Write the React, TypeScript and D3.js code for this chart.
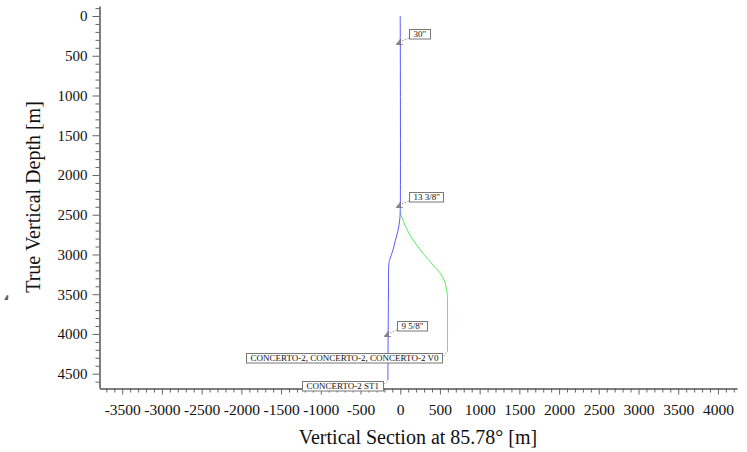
import { useEffect, useRef } from 'react'
import * as d3 from 'd3'

// Trajectories: vertical section [m] vs true vertical depth [m]
const ST1_VS = [0, 0, -5, -28, -60, -90, -130, -143, -148, -152, -155]
const ST1_TVD = [0, 2450, 2550, 2700, 2820, 2940, 3060, 3120, 3500, 4000, 4580]
const V0_VS = [0, 20, 78, 161, 287, 413, 518, 572, 592, 595, 595]
const V0_TVD = [2470, 2530, 2670, 2818, 2985, 3132, 3258, 3384, 3500, 3600, 4225]

const CASING_NAMES = ['30"', '13 3/8"', '9 5/8"']
const CASING_VS = [0, 0, -148]
const CASING_TVD = [330, 2380, 4000]

const WELL_LABELS = ['CONCERTO-2, CONCERTO-2, CONCERTO-2 V0', 'CONCERTO-2 ST1']

const X_TICKS = [-3500, -3000, -2500, -2000, -1500, -1000, -500, 0, 500, 1000, 1500, 2000, 2500, 3000, 3500, 4000]
const Y_TICKS = [0, 500, 1000, 1500, 2000, 2500, 3000, 3500, 4000, 4500]

const W = 747
const H = 452
const SERIF = '"Liberation Serif", "DejaVu Serif", serif'

export default function App() {
  const svgRef = useRef<SVGSVGElement>(null)

  useEffect(() => {
    if (!svgRef.current) return
    document.body.style.margin = '0'
    const svg = d3.select(svgRef.current)
    svg.selectAll('*').remove()

    const x = d3.scaleLinear().domain([-3786, 4240]).range([99.5, 737])
    const y = d3.scaleLinear().domain([-126, 4680]).range([6, 388])

    // ── Axes ────────────────────────────────────────────────────────────────
    const minorX = d3.range(-3700, 4201, 100).filter((v) => v % 500 !== 0)
    const minorY = d3.range(-100, 4601, 100).filter((v) => v % 500 !== 0)

    const styleAxis = (size: number) => (a: any) => {
      a.attr('font-family', SERIF)
      a.select('.domain').attr('stroke', '#555')
      a.selectAll('line').attr('stroke', '#666')
      a.selectAll('text').attr('font-family', SERIF).attr('font-size', size).attr('fill', '#111')
    }

    svg.append('g').attr('transform', 'translate(0,388.5)')
      .call(d3.axisBottom(x).tickValues(minorX).tickSize(4).tickSizeOuter(0).tickFormat(() => ''))
      .call(styleAxis(15))
    svg.append('g').attr('transform', 'translate(0,388.5)')
      .call(d3.axisBottom(x).tickValues(X_TICKS).tickSize(6).tickPadding(9).tickSizeOuter(0).tickFormat((d) => String(d)))
      .call(styleAxis(15.5))

    svg.append('g').attr('transform', 'translate(99.5,0)')
      .call(d3.axisLeft(y).tickValues(minorY).tickSize(4).tickSizeOuter(0).tickFormat(() => ''))
      .call(styleAxis(15))
    svg.append('g').attr('transform', 'translate(99.5,0)')
      .call(d3.axisLeft(y).tickValues(Y_TICKS).tickSize(7).tickPadding(5).tickSizeOuter(0).tickFormat((d) => String(d)))
      .call(styleAxis(15))

    // axis titles
    svg.append('text')
      .attr('transform', 'translate(40,197) rotate(-90)')
      .attr('text-anchor', 'middle')
      .attr('font-family', SERIF).attr('font-size', 20).attr('fill', '#111')
      .text('True Vertical Depth [m]')
    svg.append('text')
      .attr('x', 418).attr('y', 444)
      .attr('text-anchor', 'middle')
      .attr('font-family', SERIF).attr('font-size', 20).attr('fill', '#111')
      .text('Vertical Section at 85.78° [m]')

    // little stray glyph at the left edge
    svg.append('path').attr('d', 'M4,300 L7,295 L8.5,295.5 L8,300 Z').attr('fill', '#666')

    // ── Wells ───────────────────────────────────────────────────────────────
    const line = d3.line<[number, number]>()
      .x((d) => x(d[0])).y((d) => y(d[1]))
      .curve(d3.curveCatmullRom)

    const v0 = V0_VS.map((v, i) => [v, V0_TVD[i]] as [number, number])
    const st1 = ST1_VS.map((v, i) => [v, ST1_TVD[i]] as [number, number])

    svg.append('path').attr('d', line(v0)).attr('fill', 'none')
      .attr('stroke', '#55ee55').attr('stroke-width', 1)
    svg.append('path').attr('d', line(st1)).attr('fill', 'none')
      .attr('stroke', '#5a5aff').attr('stroke-width', 1)

    // ── Casing shoes ──────────────────────────────────────────────────────────
    const boxLabel = (text: string, bx: number, by: number, anchorRight: boolean) => {
      const g = svg.append('g')
      const rect = g.append('rect').attr('fill', 'white').attr('stroke', '#777').attr('stroke-width', 1)
      const t = g.append('text')
        .attr('font-family', SERIF).attr('font-size', 9).attr('fill', '#111')
        .attr('dominant-baseline', 'central')
        .text(text)
      const tw = (t.node() as SVGTextElement).getComputedTextLength()
      const bw = Math.round(tw + 8)
      const left = anchorRight ? bx - bw : bx
      rect.attr('x', left + 0.5).attr('y', by + 0.5).attr('width', bw).attr('height', 9.5)
      t.attr('x', left + 4.5).attr('y', by + 5.3)
      return { left, right: left + bw }
    }

    CASING_NAMES.forEach((name, i) => {
      const cx = Math.round(x(CASING_VS[i]))
      const cy = Math.round(y(CASING_TVD[i]))
      // shoe symbol: small half-arrow with a base tick
      svg.append('path')
        .attr('d', `M${cx - 3.5},${cy + 2} L${cx + 0.5},${cy + 2} L${cx + 0.5},${cy - 3} Z`)
        .attr('fill', '#8a8a8a').attr('stroke', '#666').attr('stroke-width', 0.5)
      svg.append('line')
        .attr('x1', cx - 4).attr('y1', cy + 2.5).attr('x2', cx + 3).attr('y2', cy + 2.5)
        .attr('stroke', '#666').attr('stroke-width', 0.7)
      svg.append('line')
        .attr('x1', cx + 2).attr('y1', cy - 1).attr('x2', cx + 9).attr('y2', cy - 4)
        .attr('stroke', '#777').attr('stroke-width', 0.8).attr('stroke-dasharray', '1.5,1.5')
      boxLabel(name, cx + 9, cy - 13, false)
    })

    // ── Well end labels ──────────────────────────────────────────────────────
    const ends = [v0[v0.length - 1], st1[st1.length - 1]]
    ends.forEach((p, i) => {
      const ex = Math.round(x(p[0]))
      const ey = Math.round(y(p[1]))
      const b = boxLabel(WELL_LABELS[i], ex - 5, ey + 1, true)
      svg.append('line')
        .attr('x1', b.right + 1.5).attr('y1', ey + 4).attr('x2', ex).attr('y2', ey)
        .attr('stroke', '#777').attr('stroke-width', 0.8).attr('stroke-dasharray', '1.5,1.5')
    })
  }, [])

  return (
    <div style={{ position: 'absolute', left: 0, top: 0, width: W, height: H, background: 'white' }}>
      <svg ref={svgRef} width={W} height={H} style={{ display: 'block' }} />
    </div>
  )
}
